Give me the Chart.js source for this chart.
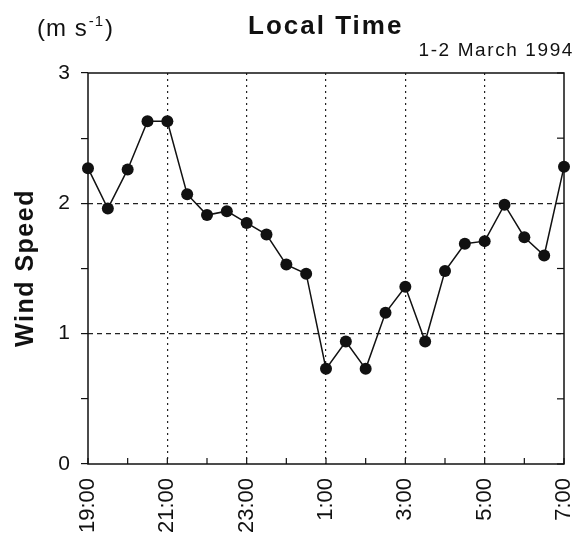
<!DOCTYPE html>
<html>
<head>
<meta charset="utf-8">
<script src="https://cdn.jsdelivr.net/npm/chart.js@4.4.0/dist/chart.umd.min.js"></script>
<style>
html, body { margin: 0; padding: 0; background: #fff; }
</style>
</head>
<body>
<canvas id="windChart" width="582" height="538"></canvas>
<script>
// half-hourly wind speed, 1-2 March 1994
const times = ['19:00', '19:30', '20:00', '20:30', '21:00', '21:30', '22:00', '22:30',
               '23:00', '23:30', '0:00', '0:30', '1:00', '1:30', '2:00', '2:30',
               '3:00', '3:30', '4:00', '4:30', '5:00', '5:30', '6:00', '6:30', '7:00'];
const windSpeed = [2.27, 1.96, 2.26, 2.63, 2.63, 2.07, 1.91, 1.94,
                   1.85, 1.76, 1.53, 1.46, 0.73, 0.94, 0.73, 1.16,
                   1.36, 0.94, 1.48, 1.69, 1.71, 1.99, 1.74, 1.60, 2.28];
const xTickLabels = ['19:00', '21:00', '23:00', '1:00', '3:00', '5:00', '7:00'];
const yTickLabels = ['0', '1', '2', '3'];

const FONT = '"Liberation Sans", Arial, sans-serif';
const INK = '#111';

// hours since previous midnight, so the night runs past 24
function toHours(t) {
    const p = t.split(':');
    let h = Number(p[0]) + Number(p[1]) / 60;
    if (h < 12) h += 24;
    return h;
}

const points = times.map((t, i) => ({ x: toHours(t), y: windSpeed[i] }));

const frameAndText = {
    id: 'frameAndText',
    beforeDatasetsDraw(chart) {
        const ctx = chart.ctx;
        const ca = chart.chartArea;
        const xs = chart.scales.x;
        const ys = chart.scales.y;
        ctx.save();
        ctx.strokeStyle = INK;
        ctx.lineWidth = 1.5;
        ctx.strokeRect(ca.left, ca.top, ca.right - ca.left, ca.bottom - ca.top);
        ctx.lineWidth = 1.2;
        // inward ticks on the right side
        ys.ticks.forEach(t => {
            const y = ys.getPixelForValue(t.value);
            ctx.beginPath();
            ctx.moveTo(ca.right, y);
            ctx.lineTo(ca.right - 7, y);
            ctx.stroke();
        });
        // minor ticks on the bottom, every hour
        xs.ticks.forEach(t => {
            const x = xs.getPixelForValue(t.value);
            ctx.beginPath();
            ctx.moveTo(x, ca.bottom);
            ctx.lineTo(x, ca.bottom - 6);
            ctx.stroke();
        });
        ctx.restore();
    },
    afterDraw(chart) {
        const ctx = chart.ctx;
        ctx.save();
        ctx.fillStyle = INK;
        ctx.textBaseline = 'alphabetic';

        // units
        ctx.textAlign = 'left';
        ctx.font = '24px ' + FONT;
        ctx.letterSpacing = '1px';
        let x = 37;
        ctx.fillText('(m s', x, 36);
        x += ctx.measureText('(m s').width + 1;
        ctx.font = '15px ' + FONT;
        ctx.fillText('-1', x, 26);
        x += ctx.measureText('-1').width + 1;
        ctx.font = '24px ' + FONT;
        ctx.fillText(')', x, 36);

        // title
        ctx.font = 'bold 26px ' + FONT;
        ctx.letterSpacing = '2px';
        ctx.fillText('Local Time', 248, 34);

        // date
        ctx.font = '19px ' + FONT;
        ctx.letterSpacing = '1.6px';
        ctx.textAlign = 'right';
        ctx.fillText('1-2 March 1994', 574, 56);

        // y axis title
        ctx.translate(33, 268);
        ctx.rotate(-Math.PI / 2);
        ctx.textAlign = 'center';
        ctx.font = 'bold 25px ' + FONT;
        ctx.letterSpacing = '1.5px';
        ctx.fillText('Wind Speed', 0, 0);
        ctx.restore();
    }
};

new Chart(document.getElementById('windChart').getContext('2d'), {
    type: 'line',
    data: {
        datasets: [{
            label: 'Wind Speed',
            data: points,
            borderColor: INK,
            borderWidth: 1.5,
            backgroundColor: INK,
            pointBackgroundColor: INK,
            pointBorderColor: INK,
            pointRadius: 6,
            pointBorderWidth: 0,
            tension: 0,
            fill: false,
            clip: false
        }]
    },
    options: {
        responsive: false,
        animation: false,
        devicePixelRatio: 1,
        layout: { padding: { top: 73, right: 18, left: 0, bottom: 0 } },
        plugins: {
            legend: { display: false },
            tooltip: { enabled: false }
        },
        scales: {
            x: {
                type: 'linear',
                min: 19,
                max: 31,
                afterFit: s => {
                    s.height = 74;
                    s.paddingLeft = 0;
                    s.paddingRight = 0;
                },
                ticks: {
                    stepSize: 1,
                    autoSkip: false,
                    minRotation: 90,
                    maxRotation: 90,
                    padding: 14,
                    color: INK,
                    font: { family: FONT, size: 22 },
                    callback: v => ((v - 19) % 2 === 0 ? xTickLabels[(v - 19) / 2] : '')
                },
                grid: {
                    drawTicks: false,
                    lineWidth: 1.2,
                    color: c => {
                        const v = c.tick ? c.tick.value : null;
                        return (v !== null && (v - 19) % 2 === 0 && v > 19 && v < 31) ? '#222' : 'rgba(0,0,0,0)';
                    }
                },
                border: { display: false, dash: [2, 4] }
            },
            y: {
                min: 0,
                max: 3,
                afterFit: s => {
                    s.width = 88;
                    s.paddingTop = 0;
                    s.paddingBottom = 0;
                },
                ticks: {
                    stepSize: 0.5,
                    padding: 11,
                    color: INK,
                    font: { family: FONT, size: 21 },
                    callback: v => (Number.isInteger(v) ? yTickLabels[v] : '')
                },
                grid: {
                    drawTicks: true,
                    tickLength: 7,
                    tickColor: INK,
                    tickWidth: 1.2,
                    lineWidth: 1.2,
                    color: c => {
                        const v = c.tick ? c.tick.value : null;
                        return (v !== null && Number.isInteger(v) && v > 0 && v < 3) ? '#222' : 'rgba(0,0,0,0)';
                    }
                },
                border: { display: false, dash: [5, 4] }
            }
        }
    },
    plugins: [frameAndText]
});
</script>
</body>
</html>
